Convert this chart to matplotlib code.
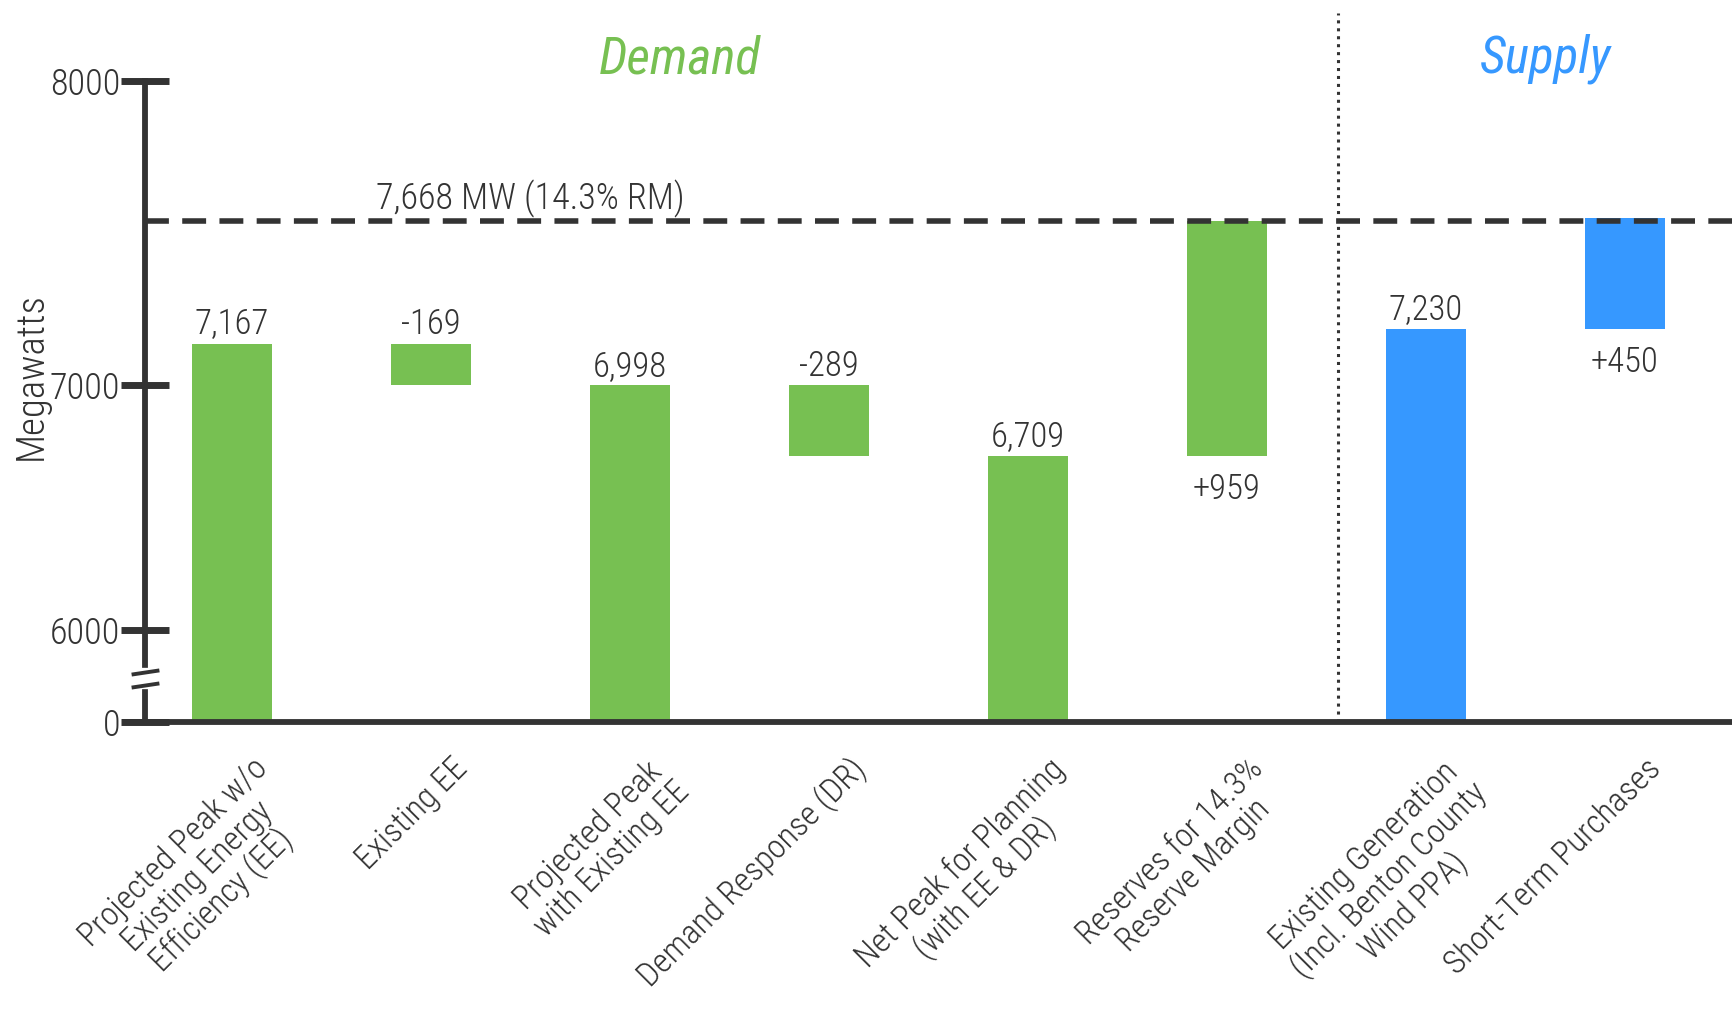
import numpy as np
import matplotlib
matplotlib.use("Agg")
import matplotlib.pyplot as plt
from matplotlib import font_manager
from matplotlib.transforms import ScaledTranslation

names = {f.name for f in font_manager.fontManager.ttflist}
FONT = 'Liberation Sans'
for cand in ['Roboto Condensed', 'Liberation Sans Narrow', 'Noto Sans Condensed',
             'Open Sans Condensed', 'Arial Narrow']:
    if cand in names:
        FONT = cand
        break
plt.rcParams['font.family'] = [FONT, 'DejaVu Sans']
plt.rcParams['font.weight'] = 'light'

categories = [
    "Projected Peak w/o\nExisting Energy\nEfficiency (EE)",
    "Existing EE",
    "Projected Peak\nwith Existing EE",
    "Demand Response (DR)",
    "Net Peak for Planning\n(with EE & DR)",
    "Reserves for 14.3%\nReserve Margin",
    "Existing Generation\n(Incl. Benton County\nWind PPA)",
    "Short-Term Purchases",
]
values = [7167, -169, 6998, -289, 6709, 959, 7230, 450]
kinds = ["total", "delta", "total", "delta", "total", "delta", "total", "delta"]
groups = ["demand"] * 6 + ["supply"] * 2
target = 7668
target_label = "7,668 MW (14.3% RM)"
yticks = [0, 6000, 7000, 8000]

GREEN = "#77C052"
BLUE = "#3698FF"
DARK = "#333333"

# broken axis: 0..6000 squeezed into a small band, top stretched a bit
BREAK = 6000
SQUEEZE = 376.0
TOP = 7700
STRETCH = 1.8


def fwd(v):
    v = np.asarray(v, dtype=float)
    low = BREAK - SQUEEZE + v * SQUEEZE / BREAK
    high = TOP + (v - TOP) * STRETCH
    return np.where(v < BREAK, low, np.where(v > TOP, high, v))


def inv(t):
    t = np.asarray(t, dtype=float)
    low = (t - (BREAK - SQUEEZE)) * BREAK / SQUEEZE
    high = TOP + (t - TOP) / STRETCH
    return np.where(t < BREAK, low, np.where(t > TOP, high, t))


fig = plt.figure(figsize=(17.32, 10.14), dpi=100)
ax = fig.add_axes([0, 292 / 1014, 1, 722 / 1014])
ax.set_yscale('function', functions=(fwd, inv))

x = np.arange(len(values))
bottoms, heights = [], []
level = 0
for v, k in zip(values, kinds):
    if k == "total":
        bottoms.append(0)
        heights.append(v)
        level = v
    else:
        lo = min(level, level + v)
        bottoms.append(lo)
        heights.append(abs(v))
        level = level + v

colors = [GREEN if g == "demand" else BLUE for g in groups]
ax.bar(x, heights, bottom=bottoms, width=0.4, color=colors, zorder=2)

# value labels
for i, (v, k) in enumerate(zip(values, kinds)):
    if k == "total" or v < 0:
        ax.annotate(f"{v:,}", (i, bottoms[i] + heights[i]), xytext=(0, 2),
                    textcoords="offset points", ha="center", va="bottom",
                    fontsize=25, color=DARK)
    else:
        ax.annotate(f"+{v:,}", (i, bottoms[i]), xytext=(0, -12),
                    textcoords="offset points", ha="center", va="top",
                    fontsize=25, color=DARK)

xmin, xmax = -1.166, 7.538
ax.set_xlim(xmin, xmax)
ax.set_ylim(0, 8184)

# reserve margin target
ax.axhline(target, xmin=(-0.437 - xmin) / (xmax - xmin), color=DARK, lw=4,
           dashes=(4.3, 2.4), zorder=3)
ax.annotate(target_label, (1.5, target), xytext=(0, 2), textcoords="offset points",
            ha="center", va="bottom", fontsize=26, color=DARK)

# demand / supply divider
ax.axvline(5.56, ymax=1 - 13 / 722, color=DARK, lw=2.2, ls=(0, (1, 1.6)), zorder=1)
ax.text(2.25, 0.918, "Demand", transform=ax.get_xaxis_transform(), ha="center",
        va="center", fontsize=37, color=GREEN, style="italic", weight="normal")
ax.text(6.6, 0.918, "Supply", transform=ax.get_xaxis_transform(), ha="center",
        va="center", fontsize=37, color=BLUE, style="italic", weight="normal")

# axes styling
for s in ["top", "right"]:
    ax.spines[s].set_visible(False)
ax.spines["left"].set_position(("data", -0.437))
ax.spines["left"].set_bounds(0, 8000)
ax.spines["bottom"].set_bounds(-0.54, xmax)
for s in ["left", "bottom"]:
    ax.spines[s].set_linewidth(4.2)
    ax.spines[s].set_color(DARK)

ax.set_yticks(yticks)
ax.set_yticklabels([str(t) for t in yticks])
ax.tick_params(axis="y", direction="inout", length=34, width=5, color=DARK,
               labelsize=26, labelcolor=DARK, pad=1)
ax.minorticks_off()

ax.set_xticks(x)
ax.set_xticklabels(categories, rotation=45, ha="right", va="top",
                   rotation_mode="anchor", multialignment="center", linespacing=1.05)
ax.tick_params(axis="x", length=0, labelsize=24, labelcolor=DARK, pad=22)
for lab in ax.get_xticklabels():
    lab.set_transform(lab.get_transform() + ScaledTranslation(0.2, 0, fig.dpi_scale_trans))

# axis break marks
ax.plot([-0.437, -0.437], [2410, 3255], color="white", lw=6, zorder=4, clip_on=False)
brk = dict(marker=[(-1, -0.15), (1, 0.15)], markersize=20, linestyle="none",
           color=DARK, mew=2.8, clip_on=False, zorder=5)
ax.plot([-0.437, -0.437], [2410, 3255], **brk)

fig.text(31 / 1732, 1 - 376 / 1014, "Megawatts", rotation=90, ha="center",
         va="center", fontsize=28, color=DARK)

fig.savefig("out.png", dpi=100, facecolor="white")
